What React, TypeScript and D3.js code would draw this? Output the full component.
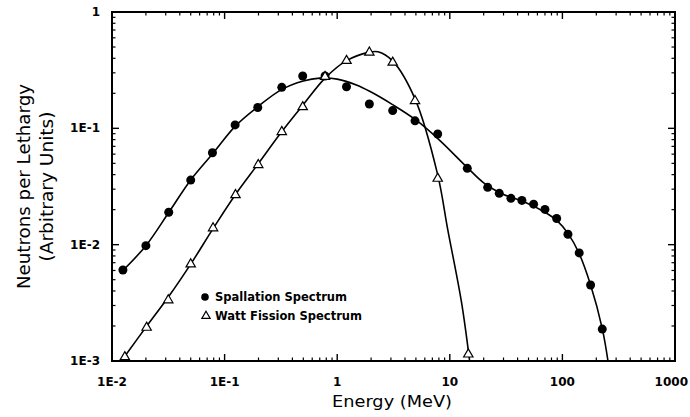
import { scaleLog, line, curveCatmullRom, symbol, symbolTriangle } from 'd3';

const xTicks = [0.01, 0.1, 1, 10, 100, 1000];
const xTickLabels = ['1E-2', '1E-1', '1', '10', '100', '1000'];
const yTicks = [0.001, 0.01, 0.1, 1];
const yTickLabels = ['1E-3', '1E-2', '1E-1', '1'];

// measured points
const spallE = [0.0125, 0.02, 0.0319, 0.05, 0.078, 0.124, 0.197, 0.322, 0.494, 0.78, 1.21, 1.93, 3.11, 4.91, 7.81, 14.3, 21.7, 27.5, 34.9, 43.7, 55.5, 70, 88.9, 112, 141, 178, 226];
const spallN = [0.00605, 0.0098, 0.019, 0.0359, 0.0617, 0.107, 0.151, 0.225, 0.282, 0.282, 0.228, 0.162, 0.142, 0.116, 0.0893, 0.0453, 0.0311, 0.0276, 0.025, 0.024, 0.0223, 0.0201, 0.0168, 0.0123, 0.0085, 0.0045, 0.00188];

const wattE = [0.013, 0.0203, 0.0316, 0.05, 0.079, 0.125, 0.199, 0.322, 0.494, 0.78, 1.21, 1.93, 3.11, 4.91, 7.81, 14.6];
const wattN = [0.0011, 0.00197, 0.00339, 0.0069, 0.0141, 0.0272, 0.0493, 0.0948, 0.155, 0.282, 0.387, 0.456, 0.374, 0.175, 0.0376, 0.00116];

// fitted curves
const spallFitE = [0.0125, 0.02, 0.032, 0.05, 0.08, 0.125, 0.2, 0.32, 0.5, 0.7, 1.0, 1.5, 2.0, 3.1, 5, 8, 14, 20, 30, 45, 70, 90, 112, 140, 178, 226, 254];
const spallFitN = [0.006, 0.0098, 0.019, 0.036, 0.062, 0.105, 0.155, 0.215, 0.255, 0.27, 0.265, 0.235, 0.205, 0.16, 0.118, 0.08, 0.047, 0.034, 0.027, 0.0235, 0.019, 0.016, 0.0125, 0.0085, 0.0045, 0.0019, 0.001];

const wattFitE = [0.013, 0.02, 0.032, 0.05, 0.08, 0.125, 0.2, 0.32, 0.5, 0.78, 1.2, 1.9, 2.3, 3.1, 4.9, 7.8, 9.6, 12.7, 15];
const wattFitN = [0.0011, 0.00195, 0.0036, 0.0068, 0.014, 0.027, 0.05, 0.093, 0.16, 0.27, 0.38, 0.45, 0.455, 0.38, 0.18, 0.04, 0.0134, 0.0032, 0.001];

const legendLabels = ['Spallation Spectrum', 'Watt Fission Spectrum'];

const font = '"DejaVu Sans", Verdana, sans-serif';

export default function App() {
  const width = 690;
  const height = 417;
  const margin = { top: 12, right: 15, bottom: 56, left: 112 };
  const x = scaleLog().domain([0.01, 1000]).range([margin.left, width - margin.right]);
  const y = scaleLog().domain([0.001, 1]).range([height - margin.bottom, margin.top]);
  const [x0, x1] = x.range();
  const [y0, y1] = y.range();

  const minorX: number[] = [];
  for (let d = -2; d < 3; d++) for (let k = 2; k < 10; k++) minorX.push(k * Math.pow(10, d));
  const minorY: number[] = [];
  for (let d = -3; d < 0; d++) for (let k = 2; k < 10; k++) minorY.push(k * Math.pow(10, d));

  const mk = (es: number[], ns: number[]) =>
    line<number>()
      .x((_, i) => x(es[i]))
      .y((_, i) => y(ns[i]))
      .curve(curveCatmullRom.alpha(0.5))(es) || '';

  const tri = symbol().type(symbolTriangle).size(38)() || '';

  const major = 7;
  const minor = 3.5;

  return (
    <svg width={width} height={height} style={{ position: 'absolute', left: 0, top: 0, background: '#fff' }}>
      <defs>
        <clipPath id="plot">
          <rect x={x0} y={y1} width={x1 - x0} height={y0 - y1} />
        </clipPath>
      </defs>
      <g stroke="#000" fill="none">
        {minorX.map((v) => (
          <g key={'mx' + v}>
            <line x1={x(v)} x2={x(v)} y1={y0} y2={y0 - minor} strokeWidth={1.2} />
            <line x1={x(v)} x2={x(v)} y1={y1} y2={y1 + minor} strokeWidth={1.2} />
          </g>
        ))}
        {xTicks.map((v) => (
          <g key={'Mx' + v}>
            <line x1={x(v)} x2={x(v)} y1={y0} y2={y0 - major} strokeWidth={1.4} />
            <line x1={x(v)} x2={x(v)} y1={y1} y2={y1 + major} strokeWidth={1.4} />
          </g>
        ))}
        {minorY.map((v) => (
          <g key={'my' + v}>
            <line x1={x0} x2={x0 + minor} y1={y(v)} y2={y(v)} strokeWidth={1.2} />
            <line x1={x1} x2={x1 - minor} y1={y(v)} y2={y(v)} strokeWidth={1.2} />
          </g>
        ))}
        {yTicks.map((v) => (
          <g key={'My' + v}>
            <line x1={x0} x2={x0 + major} y1={y(v)} y2={y(v)} strokeWidth={1.4} />
            <line x1={x1} x2={x1 - major} y1={y(v)} y2={y(v)} strokeWidth={1.4} />
          </g>
        ))}
        <rect x={x0} y={y1} width={x1 - x0} height={y0 - y1} strokeWidth={2} />
      </g>

      <g clipPath="url(#plot)" fill="none" stroke="#000" strokeWidth={1.6}>
        <path d={mk(spallFitE, spallFitN)} />
        <path d={mk(wattFitE, wattFitN)} />
      </g>

      {spallE.map((e, i) => (
        <circle key={'s' + i} cx={x(e)} cy={y(spallN[i])} r={4.5} fill="#000" />
      ))}
      {wattE.map((e, i) => (
        <path
          key={'w' + i}
          d={tri}
          transform={`translate(${x(e)},${y(wattN[i]) + 0.8})`}
          fill="#fff"
          stroke="#000"
          strokeWidth={1.2}
        />
      ))}

      <g fontFamily={font} fontSize={12} fontWeight="bold" fill="#000">
        {xTicks.map((v, i) => {
          const last = i === xTicks.length - 1;
          return (
            <text
              key={'xl' + v}
              x={last ? width - 2 : x(v)}
              y={y0 + 25}
              textAnchor={last ? 'end' : 'middle'}
            >
              {xTickLabels[i]}
            </text>
          );
        })}
        {yTicks.map((v, i) => (
          <text key={'yl' + v} x={x0 - 12} y={y(v) + 4} textAnchor="end">
            {yTickLabels[i]}
          </text>
        ))}
      </g>

      <g fontFamily={font} fontSize={11.5} fontWeight="bold" fill="#000">
        <circle cx={205} cy={297} r={3.8} fill="#000" />
        <text x={215} y={301} textLength={132} lengthAdjust="spacingAndGlyphs">{legendLabels[0]}</text>
        <path d={symbol().type(symbolTriangle).size(30)() || ''} transform="translate(206,316)" fill="#fff" stroke="#000" strokeWidth={1.2} />
        <text x={215} y={320} textLength={147} lengthAdjust="spacingAndGlyphs">{legendLabels[1]}</text>
      </g>

      <text x={392} y={407} textAnchor="middle" fontFamily={font} fontSize={16.5} fill="#000" textLength={120} lengthAdjust="spacingAndGlyphs">
        Energy (MeV)
      </text>
      <g transform={`translate(30, ${(y0 + y1) / 2}) rotate(-90)`} fontFamily={font} fontSize={17} fill="#000" textAnchor="middle">
        <text x={0} y={0} textLength={205} lengthAdjust="spacingAndGlyphs">Neutrons per Lethargy</text>
        <text x={0} y={23} textLength={150} lengthAdjust="spacingAndGlyphs">(Arbitrary Units)</text>
      </g>
    </svg>
  );
}
